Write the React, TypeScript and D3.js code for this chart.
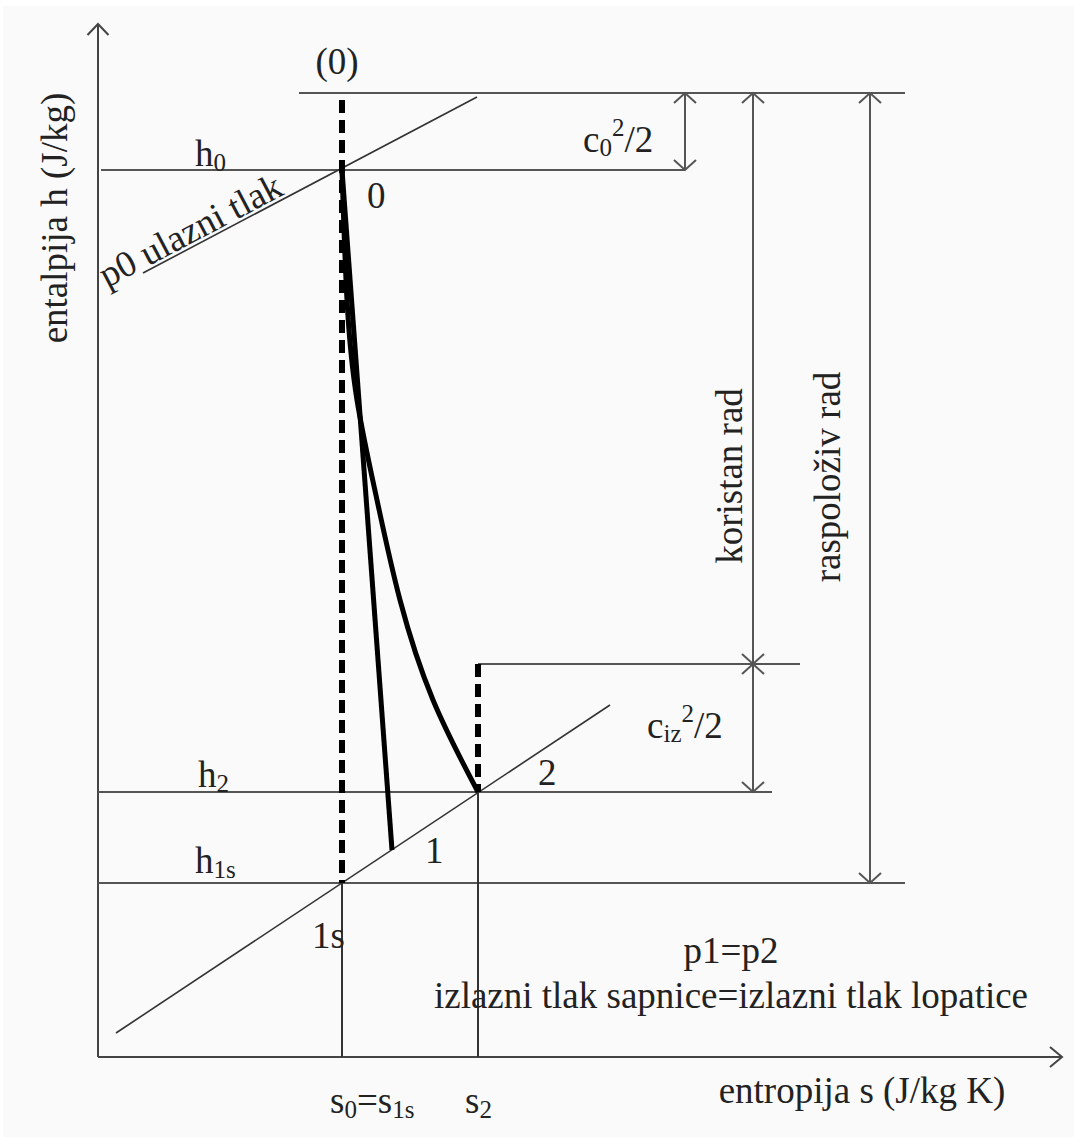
import React from 'react';
import * as d3 from 'd3';

// h-s dijagram (entalpija / entropija), vrijednosti u proizvoljnim jedinicama
const W = 1074;
const H = 1137;

// stanja: s (entropija), h (entalpija)
const S0 = 24.4;   // s0 = s1s
const S1 = 29.4;
const S2 = 38.0;
const H_TOP = 96.4;  // (0) zaustavno stanje
const H0 = 88.7;
const H2T = 39.3;    // h2 + ciz^2/2
const H2 = 26.5;
const H1 = 20.7;
const H1S = 17.4;

// izobare [s, h]
const isobarP0 = [[4.5, 78.4], [37.9, 96.0]];
const isobarP1 = [[1.8, 2.4], [51.2, 35.2]];

// ekspanzija 0 -> 2 (stvarna), ocitano sa slike
const curve02 = [
  [24.4, 88.7], [24.9, 75.7], [25.9, 65.7], [27.9, 55.7],
  [30.2, 45.7], [33.5, 35.7], [38.0, 26.5]
];
// ekspanzija 0 -> 1
const line01 = [[S0, H0], [S1, H1]];

// horizontalne linije: [h, sOd, sDo]
const hLines = [
  [H_TOP, 20.1, 80.7],
  [H0, 0.3, 58.7],
  [H2T, S2, 70.2],
  [H2, 0, 67.4],
  [H1S, 0, 80.7]
];

// kote: [s, hGore, hDolje]
const dims = [
  [58.7, H_TOP, H0],
  [65.5, H_TOP, H2T],
  [65.5, H2T, H2],
  [77.2, H_TOP, H1S]
];

const sx = d3.scaleLinear().domain([0, 96]).range([98, 1058]);
const sy = d3.scaleLinear().domain([0, 103.2]).range([1057, 25]);

const thin = '#555';
const ink = '#222';
const font = "'Liberation Serif', 'Times New Roman', serif";

const Arrow = ({ s, hTop, hBot }) => {
  const x = sx(s), y1 = sy(hTop), y2 = sy(hBot);
  const a = 11, b = 10;
  return (
    <g stroke={thin} strokeWidth={2} fill="none">
      <line x1={x} y1={y1} x2={x} y2={y2} />
      <path d={`M${x - a},${y1 + b}L${x},${y1}L${x + a},${y1 + b}`} />
      <path d={`M${x - a},${y2 - b}L${x},${y2}L${x + a},${y2 - b}`} />
    </g>
  );
};

const App = () => {
  const lineGen = d3.line().x(d => sx(d[0])).y(d => sy(d[1]));
  const curveGen = d3.line().x(d => sx(d[0])).y(d => sy(d[1])).curve(d3.curveNatural);

  const p0a = [sx(isobarP0[0][0]), sy(isobarP0[0][1])];
  const p0b = [sx(isobarP0[1][0]), sy(isobarP0[1][1])];
  const angle = Math.atan2(p0b[1] - p0a[1], p0b[0] - p0a[0]) * 180 / Math.PI;
  const slope = (p0b[1] - p0a[1]) / (p0b[0] - p0a[0]);
  const labelX = 107;
  const labelY = p0a[1] + (labelX - p0a[0]) * slope - 4;

  const sub = 25;

  return (
    <svg width={W} height={H} style={{ position: 'absolute', left: 0, top: 0 }}>
      <rect x={0} y={0} width={W} height={H} fill="#fff" />
      <rect x={3} y={6} width={W - 3} height={H - 6} fill="#fafafa" />

      {/* osi */}
      <g stroke="#444" strokeWidth={2} fill="none">
        <line x1={sx(0)} y1={sy(0)} x2={sx(0)} y2={24} />
        <path d={`M${sx(0) - 10.5},35L${sx(0)},24L${sx(0) + 10.5},35`} />
        <line x1={sx(0)} y1={sy(0)} x2={1062} y2={sy(0)} />
        <path d={`M1050,${sy(0) - 10}L1062,${sy(0)}L1050,${sy(0) + 10}`} />
      </g>

      {/* horizontalne linije */}
      <g stroke={thin} strokeWidth={2}>
        {hLines.map((d, i) => (
          <line key={i} x1={sx(d[1])} y1={sy(d[0])} x2={sx(d[2])} y2={sy(d[0])} />
        ))}
      </g>

      {/* vertikale s0, s2 */}
      <g stroke="#333" strokeWidth={2}>
        <line x1={sx(S0)} y1={sy(H1S)} x2={sx(S0)} y2={sy(0)} />
        <line x1={sx(S2)} y1={sy(H2)} x2={sx(S2)} y2={sy(0)} />
      </g>

      {/* izobare */}
      <g stroke="#333" strokeWidth={1.6} fill="none">
        <path d={lineGen(isobarP0)} />
        <path d={lineGen(isobarP1)} />
      </g>

      {/* izentropa (isprekidano) */}
      <g stroke="#000" strokeWidth={6} strokeDasharray="13 7" fill="none">
        <line x1={sx(S0)} y1={sy(95.7)} x2={sx(S0)} y2={sy(H1S)} />
        <line x1={sx(S2)} y1={sy(H2T)} x2={sx(S2)} y2={sy(H2)} />
      </g>

      {/* stvarne ekspanzije */}
      <g stroke="#000" strokeWidth={5} fill="none" strokeLinejoin="round">
        <path d={lineGen(line01)} />
        <path d={curveGen(curve02)} />
      </g>

      {/* kote */}
      {dims.map((d, i) => <Arrow key={i} s={d[0]} hTop={d[1]} hBot={d[2]} />)}

      {/* tekstovi */}
      <g fill={ink} fontSize={37} style={{ fontFamily: font }}>
        <text x={sx(S0) - 5} y={sy(H_TOP) - 19} textAnchor="middle">(0)</text>
        <text x={sx(S0) + 25} y={sy(H0) + 38}>0</text>
        <text x={195} y={sy(H0) - 4}>h<tspan fontSize={sub} dy={5}>0</tspan></text>
        <text x={198} y={sy(H2) - 5}>h<tspan fontSize={sub} dy={5}>2</tspan></text>
        <text x={195} y={sy(H1S) - 10}>h<tspan fontSize={sub} dy={5}>1s</tspan></text>
        <text x={sx(S0) - 30} y={sy(H1S) + 65}>1s</text>
        <text x={sx(S1) + 33} y={sy(H1) + 13}>1</text>
        <text x={sx(S2) + 60} y={sy(H2) - 7}>2</text>

        <text x={583} y={152}>c<tspan fontSize={sub} dy={4}>0</tspan><tspan fontSize={sub} dy={-20}>2</tspan><tspan dy={16}>/2</tspan></text>
        <text x={647} y={738}>c<tspan fontSize={sub} dy={4}>iz</tspan><tspan fontSize={sub} dy={-20}>2</tspan><tspan dy={16}>/2</tspan></text>

        <text transform={`translate(${labelX},${labelY}) rotate(${angle})`}>p0 ulazni tlak</text>

        <text transform="translate(742,476) rotate(-90)" textAnchor="middle">koristan rad</text>
        <text transform="translate(840,477) rotate(-90)" textAnchor="middle">raspoloživ rad</text>
        <text transform="translate(67,218) rotate(-90)" textAnchor="middle">entalpija h (J/kg)</text>

        <text x={731} y={963} textAnchor="middle">p1=p2</text>
        <text x={731} y={1008} textAnchor="middle">izlazni tlak sapnice=izlazni tlak lopatice</text>
        <text x={862} y={1103} textAnchor="middle">entropija s (J/kg K)</text>

        <text x={sx(S0) - 12} y={1113}>s<tspan fontSize={sub} dy={5}>0</tspan><tspan dy={-5}>=s</tspan><tspan fontSize={sub} dy={5}>1s</tspan></text>
        <text x={sx(S2) - 13} y={1113}>s<tspan fontSize={sub} dy={5}>2</tspan></text>
      </g>
    </svg>
  );
};

export default App;
